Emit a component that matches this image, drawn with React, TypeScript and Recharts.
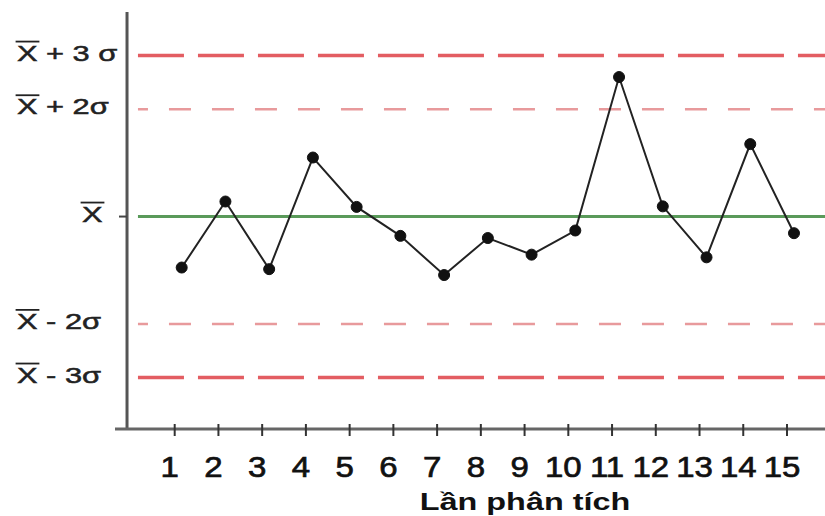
import { LineChart, Line, XAxis, YAxis, ReferenceLine } from 'recharts';

// control chart: values are in sigma units around the mean
const runs = [1, 2, 3, 4, 5, 6, 7, 8, 9, 10, 11, 12, 13, 14, 15];
const values = [-0.95, 0.28, -0.98, 1.1, 0.18, -0.36, -1.09, -0.4, -0.71, -0.26, 2.6, 0.19, -0.76, 1.35, -0.31];
const sigmaTicks = [-3, -2, 0, 2, 3];
const sigmaSuffixes = [' - 3σ', ' - 2σ', '', ' + 2σ', ' + 3 σ'];
const xTitle = 'Lần phân tích';

const data = runs.map((run, i) => ({ run, value: values[i] }));

const FONT = '"Liberation Sans", Arial, sans-serif';
const Y_DOMAIN = [-3.959, 3.812];
const X_DOMAIN = [-0.525, 15.709];

function SigmaTick({ y, payload }: any) {
    const i = sigmaTicks.indexOf(payload.value);
    const isMean = payload.value === 0;
    const left = isMean ? 82 : 17;
    return (
        <g>
            {isMean && <line x1={119} x2={127} y1={y} y2={y} stroke="#444" strokeWidth={2} />}
            <g transform={`translate(${left},${y + 5}) scale(1.4,1)`}>
                <line x1={-1} x2={16} y1={-19} y2={-19} stroke="#222" strokeWidth={1.8} />
                <text x={0} y={0} fontSize={22} fontFamily={FONT} fill="#222" stroke="#222" strokeWidth={0.5}>
                    X{sigmaSuffixes[i]}
                </text>
            </g>
        </g>
    );
}

function RunTick({ x, y, payload }: any) {
    return (
        <g>
            <line x1={x - 7} x2={x - 7} y1={y - 5} y2={y + 7} stroke="#333" strokeWidth={2} />
            <g transform={`translate(${x - 12},${y + 48}) scale(1.1,1)`}>
                <text x={0} y={0} textAnchor="middle" fontSize={30} fontFamily={FONT} fill="#111" stroke="#111" strokeWidth={0.7}>
                    {payload.value}
                </text>
            </g>
        </g>
    );
}

function XTitle({ viewBox }: any) {
    const { x, y } = viewBox;
    return (
        <g transform={`translate(${x + 410},${y + 81}) scale(1.35,1)`}>
            <text x={0} y={0} textAnchor="middle" fontSize={24} fontWeight="bold" fontFamily={FONT} fill="#111">
                {xTitle}
            </text>
        </g>
    );
}

export default function App() {
    return (
        <div>
            <style>{'body{margin:0;background:#fff}'}</style>
            <LineChart width={825} height={516} data={data} margin={{ top: 12, right: 0, bottom: 0, left: 0 }}>
                <XAxis
                    dataKey="run"
                    type="number"
                    domain={X_DOMAIN}
                    allowDataOverflow
                    ticks={runs}
                    interval={0}
                    height={87}
                    tickSize={0}
                    tickMargin={0}
                    tickLine={false}
                    axisLine={{ stroke: '#666', strokeWidth: 3 }}
                    tick={<RunTick />}
                    label={<XTitle />}
                />
                <YAxis
                    type="number"
                    domain={Y_DOMAIN}
                    allowDataOverflow
                    ticks={sigmaTicks}
                    interval={0}
                    width={115}
                    tickSize={0}
                    tickMargin={0}
                    axisLine={false}
                    tickLine={false}
                    tick={<SigmaTick />}
                />
                <ReferenceLine
                    segment={[{ x: -0.25, y: Y_DOMAIN[0] }, { x: -0.25, y: Y_DOMAIN[1] }]}
                    stroke="#555"
                    strokeWidth={3}
                />
                <ReferenceLine
                    segment={[{ x: 0, y: 3 }, { x: X_DOMAIN[1], y: 3 }]}
                    stroke="#e35d62"
                    strokeWidth={3.5}
                    strokeDasharray="46 14"
                />
                <ReferenceLine
                    segment={[{ x: 0, y: -3 }, { x: X_DOMAIN[1], y: -3 }]}
                    stroke="#e35d62"
                    strokeWidth={3.5}
                    strokeDasharray="46 14"
                />
                <ReferenceLine
                    segment={[{ x: 0, y: 2 }, { x: X_DOMAIN[1], y: 2 }]}
                    stroke="#e89a9c"
                    strokeWidth={2.5}
                    strokeDasharray="22 21"
                    strokeDashoffset={12}
                />
                <ReferenceLine
                    segment={[{ x: 0, y: -2 }, { x: X_DOMAIN[1], y: -2 }]}
                    stroke="#e89a9c"
                    strokeWidth={2.5}
                    strokeDasharray="22 21"
                    strokeDashoffset={12}
                />
                <ReferenceLine
                    segment={[{ x: 0, y: 0 }, { x: X_DOMAIN[1], y: 0 }]}
                    stroke="#5a9a5a"
                    strokeWidth={3}
                />
                <Line
                    type="linear"
                    dataKey="value"
                    stroke="#222"
                    strokeWidth={2}
                    dot={{ r: 5.5, fill: '#111', stroke: '#111', strokeWidth: 1 }}
                    isAnimationActive={false}
                />
            </LineChart>
        </div>
    );
}
